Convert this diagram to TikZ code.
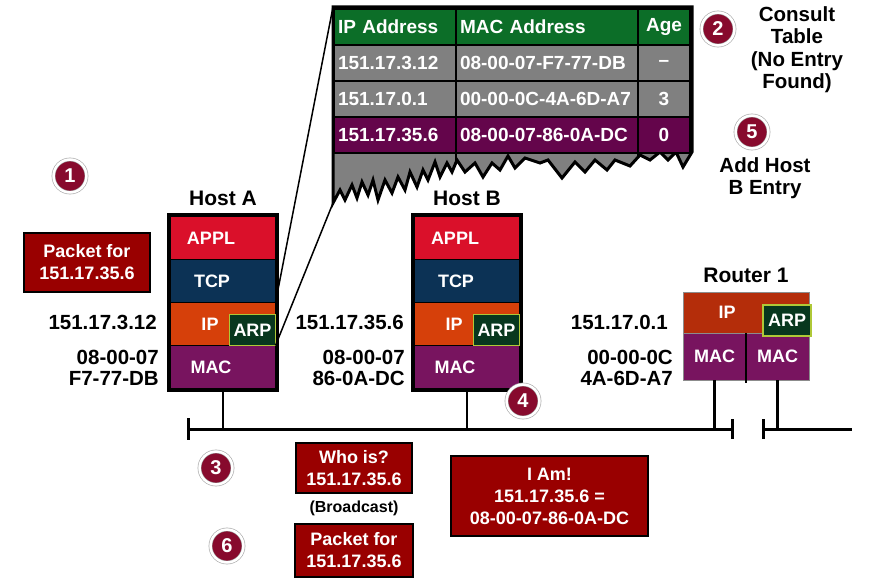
\documentclass[tikz,border=0pt]{standalone}
\usepackage{fontspec}
\setmainfont{Liberation Sans}
\usetikzlibrary{positioning}

\definecolor{applred}{RGB}{218,16,42}
\definecolor{tcpblue}{RGB}{12,50,85}
\definecolor{iporange}{RGB}{214,64,10}
\definecolor{macpurple}{RGB}{120,20,95}
\definecolor{arpgreen}{RGB}{8,55,30}
\definecolor{arpedge}{RGB}{175,200,55}
\definecolor{routerip}{RGB}{180,45,10}
\definecolor{tblgreen}{RGB}{12,110,40}
\definecolor{tblgray}{RGB}{128,128,128}
\definecolor{tblpurple}{RGB}{100,5,75}
\definecolor{msgred}{RGB}{153,0,0}
\definecolor{numred}{RGB}{135,10,45}

\providecommand\hostfont{\fontsize{21}{24}\selectfont\bfseries}
\providecommand\addrfont{\fontsize{20.5}{21}\selectfont\bfseries}
\providecommand\layerfont{\fontsize{18}{20}\selectfont\bfseries}
\providecommand\tablefont{\fontsize{19}{22}\selectfont\bfseries}
\providecommand\msgfont{\fontsize{18}{22}\selectfont\bfseries}
\providecommand\bcfont{\fontsize{16}{18}\selectfont\bfseries}
\providecommand\notefont{\fontsize{20.5}{22.5}\selectfont\bfseries}
\providecommand\numfont{\fontsize{20}{21}\selectfont\bfseries}

\begin{document}
\begin{tikzpicture}[x=1pt, y=-1pt]
  \tikzstyle{hostbox} = [rectangle, draw=black, fill=black, line width=3.5pt, minimum width=108.5pt,
                         minimum height=175.5pt, inner sep=0pt]
  \tikzstyle{layer} = [rectangle, draw=black, line width=0.8pt, minimum width=105pt, minimum height=43pt,
                       inner sep=0pt, outer sep=0pt]
  \tikzstyle{rlayer} = [rectangle, draw=black!45, line width=0.4pt, inner sep=0pt, outer sep=0pt,
                        text=white, font=\layerfont]
  \tikzstyle{layertext} = [text=white, font=\layerfont, inner sep=0pt]
  \tikzstyle{arp} = [rectangle, draw=arpedge, fill=arpgreen, line width=1.5pt, text=white, font=\layerfont,
                     minimum width=46pt, minimum height=31pt, inner sep=0pt, outer sep=0pt]
  \tikzstyle{msgbox} = [rectangle, draw=black, fill=msgred, line width=1.5pt, text=white, font=\msgfont,
                        align=center, inner sep=0pt]
  \tikzstyle{stepnum} = [circle, fill=numred, draw=gray!70, double=white, double distance=2.5pt,
                         line width=0.6pt, minimum size=33pt, inner sep=0pt, text=white, font=\numfont]
  \tikzstyle{addr} = [font=\addrfont, align=right, inner sep=0pt]
  \tikzstyle{note} = [font=\notefont, align=center, inner sep=0pt]
  \tikzstyle{cell} = [rectangle, draw=black, line width=2pt, minimum height=36pt, text=white, font=\tablefont,
                      inner xsep=4pt, inner ysep=0pt, outer sep=0pt, align=left, anchor=north west]
  \tikzstyle{bus} = [line width=3pt]
  \tikzstyle{tap} = [line width=2.5pt]

\useasboundingbox (0,0) rectangle (878,586);

\node[hostbox] (hostA) at (223,302.5) {};
\node[font=\hostfont, inner sep=0pt, above=7pt of hostA] (labA) {Host A};
\node[layer, fill=applred, label={[layertext, xshift=-12pt]center:APPL}] (applA) at (223,238) {};
\node[layer, fill=tcpblue, below=0pt of applA, label={[layertext, xshift=-11pt]center:TCP}] (tcpA) {};
\node[layer, fill=iporange, below=0pt of tcpA, label={[layertext, xshift=-13pt]center:IP}] (ipA) {};
\node[layer, fill=macpurple, below=0pt of ipA, label={[layertext, xshift=-12pt]center:MAC}] (macA) {};
\node[arp, anchor=south east] (arpA) at (ipA.south east) {ARP};
\node[addr, anchor=east] (ipAddrA) at (157,322) {151.17.3.12};
\node[addr, anchor=east] (macAddrA) at (159,368) {08-00-07\\F7-77-DB};

\node[hostbox] (hostB) at (467,302.5) {};
\node[font=\hostfont, inner sep=0pt, above=7pt of hostB] (labB) {Host B};
\node[layer, fill=applred, label={[layertext, xshift=-12pt]center:APPL}] (applB) at (467,238) {};
\node[layer, fill=tcpblue, below=0pt of applB, label={[layertext, xshift=-11pt]center:TCP}] (tcpB) {};
\node[layer, fill=iporange, below=0pt of tcpB, label={[layertext, xshift=-13pt]center:IP}] (ipB) {};
\node[layer, fill=macpurple, below=0pt of ipB, label={[layertext, xshift=-12pt]center:MAC}] (macB) {};
\node[arp, anchor=south east] (arpB) at (ipB.south east) {ARP};
\node[addr, anchor=east] (ipAddrB) at (404,322) {151.17.35.6};
\node[addr, anchor=east] (macAddrB) at (405,368) {08-00-07\\86-0A-DC};

\node[font=\hostfont, inner sep=0pt] (labR) at (746,275) {Router 1};
\node[rlayer, fill=routerip, minimum width=126pt, minimum height=41pt,
      label={[layertext, xshift=-19pt]center:IP}] (ipR) at (746,312.5) {};
\node[rlayer, fill=macpurple, minimum width=63pt, minimum height=47pt, anchor=north west] (macR1) at (ipR.south west) {MAC};
\node[rlayer, fill=macpurple, minimum width=63pt, minimum height=47pt, anchor=north east] (macR2) at (ipR.south east) {MAC};
\node[arp, minimum width=48pt, anchor=south east] (arpR) at ([xshift=2pt, yshift=-3pt]ipR.south east) {ARP};
\draw[line width=2pt] (macR1.north east) -- ([yshift=-3pt]macR1.south east);
\node[addr, anchor=east] (ipAddrR) at (668,322) {151.17.0.1};
\node[addr, anchor=east] (macAddrR) at (673,368) {00-00-0C\\4A-6D-A7};

\coordinate (busL) at (188,429);
\coordinate (busM) at (732,429);
\coordinate (busN) at (763,429);
\coordinate (busR) at (852,429);
\coordinate (tapA) at (223,429);
\coordinate (tapB) at (467,429);
\coordinate (tapR1) at (714.5,429);
\coordinate (tapR2) at (777.5,429);
\draw[bus] (busL) -- (busM);
\draw[bus] (busN) -- (busR);
\draw[bus] ([yshift=11pt]busL) -- ([yshift=-11pt]busL);
\draw[bus] ([yshift=10pt]busM) -- ([yshift=-10pt]busM);
\draw[bus] ([yshift=10pt]busN) -- ([yshift=-10pt]busN);
\draw[tap] (hostA) -- (tapA);
\draw[tap] (hostB) -- (tapB);
\draw[tap] (macR1) -- (tapR1);
\draw[tap] (macR2) -- (tapR2);

\coordinate (tblTL) at (333,7);
\coordinate (tblBL) at (333,203);
\draw[line width=1.5pt] (tblTL) -- (ipA.north east);
\draw[line width=1.5pt] (tblBL) -- (arpA.south east);

\draw[line width=3pt, fill=tblgray, line join=miter] (tblTL) -- (692,7) -- (692,152) -- (683,167) -- (676,152) -- (668,160)
  -- (660,152) -- (650,160) -- (640,155) -- (630,166) -- (615,160) -- (607,170) -- (595,160) -- (585,172)
  -- (575,162) -- (562,178) -- (548,160) -- (540,163) -- (525,158) -- (515,168) -- (508,156) -- (500,170)
  -- (492,163) -- (483,177) -- (475,163) -- (465,172) -- (457,160) -- (452,172) -- (447,163) -- (440,177)
  -- (435,162) -- (428,180) -- (423,170) -- (417,187) -- (410,172) -- (405,190) -- (398,177) -- (392,193)
  -- (385,180) -- (378,200) -- (373,180) -- (368,195) -- (362,182) -- (357,198) -- (352,185) -- (345,200)
  -- (340,190) -- (tblBL) -- cycle;
\draw[line width=2pt] (456,153) -- (456,163);
\draw[line width=2pt] (638,153) -- (638,158);

\node[cell, text width=114pt, fill=tblgreen] (hIP) at (334,9) {IP Address};
\node[cell, text width=174pt, fill=tblgreen, right=0pt of hIP] (hMAC) {MAC Address};
\node[cell, text width=44pt, align=center, fill=tblgreen, right=0pt of hMAC] (hAge) {Age};
\node[cell, text width=114pt, fill=tblgray, below=0pt of hIP] (r1IP) {151.17.3.12};
\node[cell, text width=174pt, fill=tblgray, below=0pt of hMAC] (r1MAC) {08-00-07-F7-77-DB};
\node[cell, text width=44pt, align=center, fill=tblgray, below=0pt of hAge] (r1Age) {--};
\node[cell, text width=114pt, fill=tblgray, below=0pt of r1IP] (r2IP) {151.17.0.1};
\node[cell, text width=174pt, fill=tblgray, below=0pt of r1MAC] (r2MAC) {00-00-0C-4A-6D-A7};
\node[cell, text width=44pt, align=center, fill=tblgray, below=0pt of r1Age] (r2Age) {3};
\node[cell, text width=114pt, fill=tblpurple, below=0pt of r2IP] (r3IP) {151.17.35.6};
\node[cell, text width=174pt, fill=tblpurple, below=0pt of r2MAC] (r3MAC) {08-00-07-86-0A-DC};
\node[cell, text width=44pt, align=center, fill=tblpurple, below=0pt of r2Age] (r3Age) {0};

\node[msgbox, minimum width=126pt, minimum height=59pt] (pktA) at (87,262.5) {Packet for\\151.17.35.6};
\node[msgbox, minimum width=116pt, minimum height=50pt] (whoIs) at (354,468) {Who is?\\151.17.35.6};
\node[font=\bcfont, inner sep=0pt] (bcast) at (354,508) {(Broadcast)};
\node[msgbox, minimum width=118pt, minimum height=53pt] (pktB) at (354,550.5) {Packet for\\151.17.35.6};
\node[msgbox, minimum width=197pt, minimum height=80pt] (iAm) at (549.5,496) {I Am!\\151.17.35.6 =\\08-00-07-86-0A-DC};

\node[note] (consult) at (797,49.5) {Consult\\Table\\(No Entry\\Found)};
\node[note] (addB) at (765,178) {Add Host\\B Entry};

\node[stepnum] (s1) at (70,176) {1};
\node[stepnum] (s2) at (718,29) {2};
\node[stepnum] (s3) at (216,468) {3};
\node[stepnum] (s4) at (523,401) {4};
\node[stepnum] (s5) at (752,132) {5};
\node[stepnum] (s6) at (227,546) {6};
\end{tikzpicture}
\end{document}
